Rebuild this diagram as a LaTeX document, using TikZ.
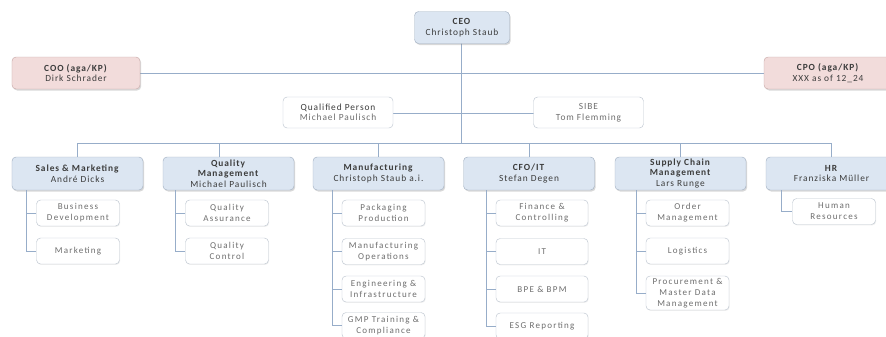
\documentclass[tikz,border=0pt]{standalone}
\usepackage{fontspec}
\setmainfont{Carlito}[LetterSpace=10]
\newfontfamily\subfont{Carlito}[LetterSpace=14]
\usetikzlibrary{shadows}
\definecolor{linecol}{HTML}{97ADC9}
\definecolor{deptfill}{HTML}{DCE6F2}
\definecolor{deptline}{HTML}{A5B3C4}
\definecolor{pinkfill}{HTML}{F2DCDB}
\definecolor{pinkline}{HTML}{C9ABAA}
\definecolor{subline}{HTML}{BFC7D1}
\definecolor{txt}{HTML}{3C3C3C}
\definecolor{subtxt}{HTML}{6E6E6E}
\tikzset{
  box/.style={rounded corners=3.5pt, align=center, inner sep=0pt, text=txt,
    font=\fontsize{8}{9}\selectfont},
  shade/.style={drop shadow={opacity=0.3, shadow xshift=1pt, shadow yshift=-1.3pt}},
  dept/.style={box, shade, draw=deptline, fill=deptfill, minimum width=39.3mm, minimum height=9.9mm},
  pinkbox/.style={box, shade, draw=pinkline, fill=pinkfill, minimum width=38.4mm, minimum height=9.6mm},
  staff/.style={box, draw=subline, fill=white, text=subtxt, minimum width=33mm, minimum height=9.3mm},
  unit/.style={box, draw=subline, fill=white, text=subtxt, minimum width=24.9mm, minimum height=7.8mm,
    font=\subfont\fontsize{7.7}{9.3}\selectfont,
    drop shadow={opacity=0.12, shadow xshift=0.6pt, shadow yshift=-0.8pt}},
  conn/.style={draw=linecol, line width=0.8pt}
}
\begin{document}
\begin{tikzpicture}[x=0.3mm, y=-0.3mm]
  \clip (0,0) rectangle (886,336);
  \fill[white] (0,0) rectangle (886,336);
  \coordinate (bus) at (461,143);
  % lines behind the boxes
  \draw[conn] (76,73) -- (828,73);
  \draw[conn] (338,113) -- (588,113);
  \draw[conn] (461,27) -- (bus);
  \draw[conn] (78,143) -- (832,143);
  % top
  \node[dept, minimum width=28.5mm, minimum height=9.6mm] (ceo) at (462,27.5) {\textbf{CEO}\\Christoph Staub};
  \node[pinkbox] (coo) at (76,73) {\textbf{COO (aga/KP)}\\Dirk Schrader};
  \node[pinkbox] (cpo) at (828,73) {\textbf{CPO (aga/KP)}\\XXX as of 12\_24};
  \node[staff] (qp) at (338,112.5) {{\color{txt}Qualified Person}\\Michael Paulisch};
  \node[staff] (sibe) at (588.5,112.5) {SIBE\\Tom Flemming};
  % departments
  \node[dept] (sales) at (77.5,173.5) {\textbf{Sales \& Marketing}\\André Dicks};
  \node[dept] (qm) at (228.5,173.5) {\textbf{Quality}\\\textbf{Management}\\Michael Paulisch};
  \node[dept] (manuf) at (378.5,173.5) {\textbf{Manufacturing}\\Christoph Staub a.i.};
  \node[dept] (cfo) at (529,173.5) {\textbf{CFO/IT}\\Stefan Degen};
  \node[dept] (scm) at (680.5,173.5) {\textbf{Supply Chain}\\\textbf{Management}\\Lars Runge};
  \node[dept] (hr) at (831.5,173.5) {\textbf{HR}\\Franziska Müller};
  \draw[conn] (sales.north) -- (sales.north |- bus);
  \draw[conn] ([xshift=-2.85mm]qm.north) -- ([xshift=-2.85mm]qm.north |- bus);
  \draw[conn] (manuf.north) -- (manuf.north |- bus);
  \draw[conn] (cfo.north) -- (cfo.north |- bus);
  \draw[conn] (scm.north) -- (scm.north |- bus);
  \draw[conn] (hr.north) -- (hr.north |- bus);
  % sales
  \node[unit] (sm1) at (78,213) {Business\\Development};
  \node[unit] (sm2) at (78,251) {Marketing};
  \draw[conn] ([xshift=-3mm]sm1.west |- sales.south) |- (sm2.west);
  \draw[conn] ([xshift=-3mm]sm1.west) -- (sm1.west);
  % quality
  \node[unit] (qm1) at (227,213) {Quality\\Assurance};
  \node[unit] (qm2) at (227,251) {Quality\\Control};
  \draw[conn] ([xshift=-3mm]qm1.west |- qm.south) |- (qm2.west);
  \draw[conn] ([xshift=-3mm]qm1.west) -- (qm1.west);
  % manufacturing
  \node[unit] (mf1) at (383.5,213) {Packaging\\Production};
  \node[unit] (mf2) at (383.5,251.5) {Manufacturing\\Operations};
  \node[unit] (mf3) at (383.5,289) {Engineering \&\\Infrastructure};
  \node[unit] (mf4) at (383.5,325.5) {GMP Training \&\\Compliance};
  \draw[conn] ([xshift=-2.7mm]mf1.west |- manuf.south) |- (mf4.west);
  \draw[conn] ([xshift=-2.7mm]mf1.west) -- (mf1.west);
  \draw[conn] ([xshift=-2.7mm]mf2.west) -- (mf2.west);
  \draw[conn] ([xshift=-2.7mm]mf3.west) -- (mf3.west);
  % cfo
  \node[unit, minimum width=27.6mm] (cf1) at (542,213) {Finance \&\\Controlling};
  \node[unit, minimum width=27.6mm] (cf2) at (542,251.5) {IT};
  \node[unit, minimum width=27.6mm] (cf3) at (542,289) {BPE \& BPM};
  \node[unit, minimum width=27.6mm] (cf4) at (542,326) {ESG Reporting};
  \draw[conn] ([xshift=-2.7mm]cf1.west |- cfo.south) |- (cf4.west);
  \draw[conn] ([xshift=-2.7mm]cf1.west) -- (cf1.west);
  \draw[conn] ([xshift=-2.7mm]cf2.west) -- (cf2.west);
  \draw[conn] ([xshift=-2.7mm]cf3.west) -- (cf3.west);
  % supply chain
  \node[unit] (sc1) at (687.5,213) {Order\\Management};
  \node[unit] (sc2) at (687.5,251) {Logistics};
  \node[unit, minimum height=10.2mm] (sc3) at (687.5,293) {Procurement \&\\Master Data\\Management};
  \draw[conn] ([xshift=-2.7mm]sc1.west |- scm.south) |- (sc3.west);
  \draw[conn] ([xshift=-2.7mm]sc1.west) -- (sc1.west);
  \draw[conn] ([xshift=-2.7mm]sc2.west) -- (sc2.west);
  % hr
  \node[unit] (hr1) at (834,211.5) {Human\\Resources};
  \draw[conn] ([xshift=-3.3mm]hr1.west |- hr.south) |- (hr1.west);
\end{tikzpicture}
\end{document}
